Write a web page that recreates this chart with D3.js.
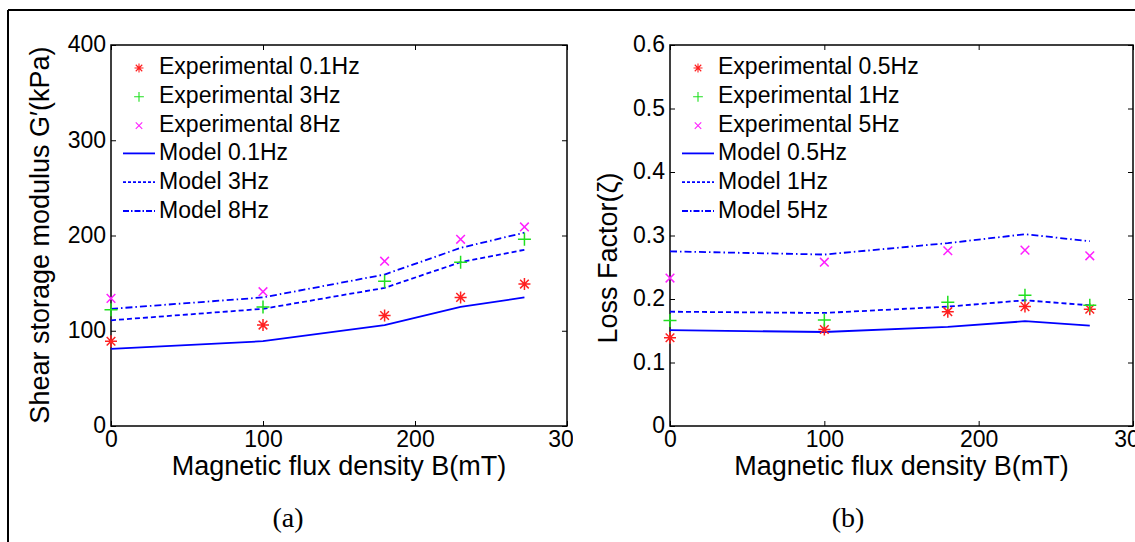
<!DOCTYPE html>
<meta charset="utf-8">
<style>
  body { margin: 0; background: #fff; }
  svg { display: block; }
  text { font-family: "Liberation Sans", Arial, Helvetica, sans-serif; fill: #000; }
  .tick line { stroke: #000; stroke-width: 1; }
  .tick text { font-size: 23px; }
  .legend text { font-size: 23px; }
  .axlabel { font-size: 27px; }
  .caption { font-family: "Liberation Serif", "Times New Roman", serif; font-size: 28px; }
</style>
<body>
<div id="chart"></div>
<script src="https://cdn.jsdelivr.net/npm/d3@7"></script>
<script>

// magnetic flux density (mT) where the samples were taken
var fluxB = [0, 100, 180, 230, 272];

// (a) shear storage modulus, kPa
var expG01 = [89, 106, 116, 135, 149];
var expG3  = [122, 125, 152, 172, 196];
var expG8  = [134, 141, 173, 196, 209];
var modG01 = [81, 89, 106, 125, 135];
var modG3  = [111, 123, 145, 172, 185];
var modG8  = [123, 135, 159, 187, 203];

// (b) loss factor
var expL05 = [0.139, 0.152, 0.180, 0.188, 0.184];
var expL1  = [0.166, 0.167, 0.195, 0.206, 0.190];
var expL5  = [0.233, 0.258, 0.276, 0.277, 0.268];
var modL05 = [0.151, 0.148, 0.156, 0.165, 0.158];
var modL1  = [0.180, 0.178, 0.188, 0.198, 0.190];
var modL5  = [0.275, 0.270, 0.288, 0.302, 0.291];

var xTicks = [0, 100, 200, 300];
var xTickLabels = ["0", "100", "200", "300"];
var gTicks = [0, 100, 200, 300, 400];
var gTickLabels = ["0", "100", "200", "300", "400"];
var lTicks = [0, 0.1, 0.2, 0.3, 0.4, 0.5, 0.6];
var lTickLabels = ["0", "0.1", "0.2", "0.3", "0.4", "0.5", "0.6"];

var width = 1135, height = 542;

var svg = d3.select("#chart").append("svg")
  .attr("width", width)
  .attr("height", height);

// outer frame (only top and left edge are visible)
svg.append("line").attr("x1", 8).attr("x2", width).attr("y1", 10).attr("y2", 10)
  .attr("stroke", "#000").attr("stroke-width", 2);
svg.append("line").attr("x1", 8).attr("x2", 8).attr("y1", 10).attr("y2", height)
  .attr("stroke", "#000").attr("stroke-width", 2);

var dashes = { solid: null, dashed: "5,3", dashdot: "7,3,1.5,3" };

// stroke-only marker paths, MATLAB style
function markerPath(type, s) {
  var h = s / 2, d = h * 0.72;
  var plus = "M" + -h + ",0H" + h + "M0," + -h + "V" + h;
  var times = "M" + -d + "," + -d + "L" + d + "," + d + "M" + -d + "," + d + "L" + d + "," + -d;
  if (type == "plus") return plus;
  if (type == "times") return times;
  return plus + times;
}

function drawPanel(cfg) {
  var x = d3.scaleLinear().domain([0, 300]).range([cfg.left, cfg.right]);
  var y = d3.scaleLinear().domain(cfg.yDomain).range([426, 45]);

  svg.append("clipPath").attr("id", cfg.id + "-clip")
    .append("rect").attr("x", cfg.left - 110).attr("y", 0)
    .attr("width", cfg.clipRight - cfg.left + 110).attr("height", height);

  var g = svg.append("g").attr("clip-path", "url(#" + cfg.id + "-clip)");

  g.append("rect")
    .attr("x", x(0)).attr("y", y(cfg.yDomain[1]))
    .attr("width", x(300) - x(0)).attr("height", y(cfg.yDomain[0]) - y(cfg.yDomain[1]))
    .attr("fill", "none").attr("stroke", "#000").attr("stroke-width", 1.5);

  var fmtX = function(d, i) { return xTickLabels[i]; };
  var fmtY = function(d, i) { return cfg.yLabels[i]; };

  g.append("g").attr("transform", "translate(0," + y(cfg.yDomain[0]) + ")")
    .call(d3.axisBottom(x).tickValues(xTicks).tickFormat(fmtX).tickSizeInner(-5).tickSizeOuter(0).tickPadding(5))
    .call(function(a) { a.select(".domain").remove(); });
  g.append("g").attr("transform", "translate(0," + y(cfg.yDomain[1]) + ")")
    .call(d3.axisTop(x).tickValues(xTicks).tickFormat("").tickSizeInner(-5).tickSizeOuter(0))
    .call(function(a) { a.select(".domain").remove(); });
  g.append("g").attr("transform", "translate(" + x(0) + ",0)")
    .call(d3.axisLeft(y).tickValues(cfg.yTicks).tickFormat(fmtY).tickSizeInner(-5).tickSizeOuter(0).tickPadding(5))
    .call(function(a) { a.select(".domain").remove(); a.selectAll("text").attr("dy", "0.3em"); });
  g.append("g").attr("transform", "translate(" + x(300) + ",0)")
    .call(d3.axisRight(y).tickValues(cfg.yTicks).tickFormat("").tickSizeInner(-5).tickSizeOuter(0))
    .call(function(a) { a.select(".domain").remove(); });
  g.selectAll(".tick text").attr("font-family", null).attr("font-size", null);

  var line = d3.line()
    .x(function(d, i) { return x(fluxB[i]); })
    .y(function(d) { return y(d); });

  cfg.models.forEach(function(m) {
    g.append("path").datum(m.values)
      .attr("d", line)
      .attr("fill", "none").attr("stroke", "#0000ff").attr("stroke-width", 1.8)
      .attr("stroke-dasharray", dashes[m.style]);
  });

  cfg.exps.forEach(function(e) {
    g.selectAll(null).data(e.values).enter().append("path")
      .attr("transform", function(d, i) { return "translate(" + x(fluxB[i]) + "," + y(d) + ")"; })
      .attr("d", markerPath(e.marker, e.size))
      .attr("fill", "none").attr("stroke", e.color).attr("stroke-width", 1.5);
  });

  // legend
  var leg = svg.append("g").attr("class", "legend");
  var rowY = function(i) { return 66 + i * 28.8; };
  cfg.exps.forEach(function(e, i) {
    leg.append("path")
      .attr("transform", "translate(" + (cfg.left + 28) + "," + (rowY(i) + 2) + ")")
      .attr("d", markerPath(e.marker, e.size * 0.75))
      .attr("fill", "none").attr("stroke", e.color).attr("stroke-width", 1.1);
    leg.append("text").attr("x", cfg.left + 48).attr("y", rowY(i)).attr("dy", "0.35em").text(e.name);
  });
  cfg.models.forEach(function(m, j) {
    var i = j + cfg.exps.length;
    leg.append("line")
      .attr("x1", cfg.left + 12).attr("x2", cfg.left + 44)
      .attr("y1", rowY(i) + 1).attr("y2", rowY(i) + 1)
      .attr("stroke", "#0000ff").attr("stroke-width", 1.8)
      .attr("stroke-dasharray", m.style == "solid" ? null : (m.style == "dashed" ? "3,2" : "6,2,1.5,2"));
    leg.append("text").attr("x", cfg.left + 48).attr("y", rowY(i)).attr("dy", "0.35em").text(m.name);
  });

  // axis titles
  svg.append("text").attr("class", "axlabel")
    .attr("x", (cfg.left + cfg.right) / 2).attr("y", 475)
    .attr("text-anchor", "middle")
    .text("Magnetic flux density B(mT)");
  svg.append("text").attr("class", "axlabel")
    .attr("transform", "translate(" + cfg.yLabelX + "," + cfg.yLabelY + ") rotate(-90)")
    .attr("text-anchor", "middle")
    .text(cfg.yTitle);
  svg.append("text").attr("class", "caption")
    .attr("x", cfg.captionX).attr("y", 527)
    .attr("text-anchor", "middle")
    .text(cfg.caption);
}

drawPanel({
  id: "a", left: 111, right: 567, clipRight: 573,
  yDomain: [0, 400], yTicks: gTicks, yLabels: gTickLabels,
  yTitle: "Shear storage modulus G\u2032(kPa)", yLabelX: 49, yLabelY: 235,
  caption: "(a)", captionX: 288,
  exps: [
    { name: "Experimental 0.1Hz", values: expG01, marker: "asterisk", color: "#ff2020", size: 12 },
    { name: "Experimental 3Hz", values: expG3, marker: "plus", color: "#20e020", size: 13 },
    { name: "Experimental 8Hz", values: expG8, marker: "times", color: "#ff20ff", size: 12 }
  ],
  models: [
    { name: "Model 0.1Hz", values: modG01, style: "solid" },
    { name: "Model 3Hz", values: modG3, style: "dashed" },
    { name: "Model 8Hz", values: modG8, style: "dashdot" }
  ]
});

drawPanel({
  id: "b", left: 670, right: 1133, clipRight: 1135,
  yDomain: [0, 0.6], yTicks: lTicks, yLabels: lTickLabels,
  yTitle: "Loss Factor(\u03b6)", yLabelX: 617, yLabelY: 258,
  caption: "(b)", captionX: 848,
  exps: [
    { name: "Experimental 0.5Hz", values: expL05, marker: "asterisk", color: "#ff2020", size: 12 },
    { name: "Experimental 1Hz", values: expL1, marker: "plus", color: "#20e020", size: 13 },
    { name: "Experimental 5Hz", values: expL5, marker: "times", color: "#ff20ff", size: 12 }
  ],
  models: [
    { name: "Model 0.5Hz", values: modL05, style: "solid" },
    { name: "Model 1Hz", values: modL1, style: "dashed" },
    { name: "Model 5Hz", values: modL5, style: "dashdot" }
  ]
});

</script>
</body>
